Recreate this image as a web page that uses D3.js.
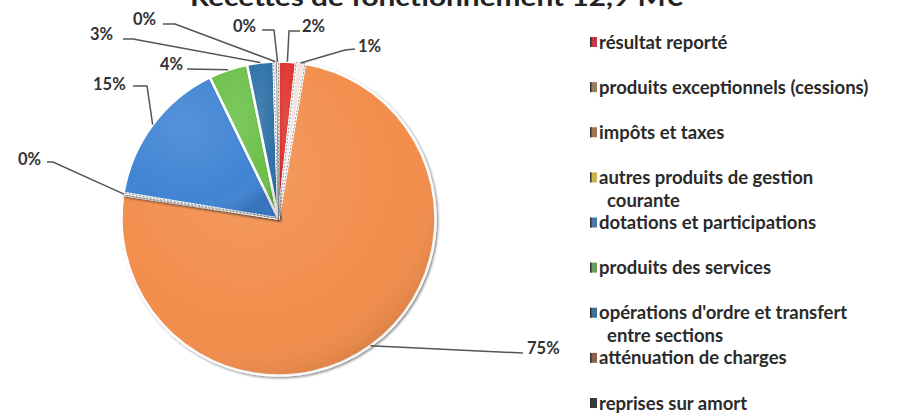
<!DOCTYPE html>
<html><head><meta charset="utf-8">
<script src="https://cdn.jsdelivr.net/npm/d3@7"></script>
<style>
html,body{margin:0;padding:0;background:#fff;}
svg{display:block;font-family:Lato,"Open Sans",sans-serif;}
</style></head>
<body>
<svg id="chart" width="897" height="413"></svg>
<script>
// ---- data ----
const categories = [
  "résultat reporté",
  "produits exceptionnels (cessions)",
  "impôts et taxes",
  "autres produits de gestion courante",
  "dotations et participations",
  "produits des services",
  "opérations d'ordre et transfert entre sections",
  "atténuation de charges",
  "reprises sur amort"
];
const values = [1.8, 0.9, 74.7, 0.2, 15.2, 4.0, 2.7, 0.3, 0.2];
const percentLabels = ["2%", "1%", "75%", "0%", "15%", "4%", "3%", "0%", "0%"];
const legendLines = [
  ["résultat reporté"],
  ["produits exceptionnels (cessions)"],
  ["impôts et taxes"],
  ["autres produits de gestion", "courante"],
  ["dotations et participations"],
  ["produits des services"],
  ["opérations d'ordre et transfert", "entre sections"],
  ["atténuation de charges"],
  ["reprises sur amort"]
];
const titleText = "Recettes de fonctionnement 12,9 M€";

// ---- style / layout ----
const sliceColors = ["#e0312f","#f1e4dc","#f28d4b","#f0c040","#3f84d4","#6cc04a","#2e6fa6","#a05a3a","#333333"];
const swatchColors = ["#c23a45","#9b7b5e","#a27456","#c9b24a","#4b78a8","#6e9b62","#3f7394","#8e5f4a","#3a3a3a"];
// label text position (x = start, y = vertical centre) and leader-line elbow points
const labelLayout = [
  {x:302, y:26, path:[[300,31],[289,31]]},
  {x:358, y:46, path:[[355,49],[345,50]]},
  {x:527, y:348, path:[[523,353]]},
  {x:18,  y:159, path:[[47,162],[53,162]]},
  {x:93,  y:84,  path:[[133,86],[147,86]]},
  {x:160, y:64,  path:[[187,69]]},
  {x:90,  y:34,  path:[[123,39],[133,39]]},
  {x:133, y:19,  path:[[163,24],[175,24]]},
  {x:233, y:26,  path:[[262,30],[274,30]]}
];
const cx = 278.5, cy = 218.5, R = 157;

const svg = d3.select("#chart");
const defs = svg.append("defs");
const f = defs.append("filter").attr("id","sh").attr("x","-10%").attr("y","-10%").attr("width","120%").attr("height","120%");
f.append("feDropShadow").attr("dx",1.5).attr("dy",1.5).attr("stdDeviation",1.2).attr("flood-color","#000").attr("flood-opacity",0.45);
const rg = defs.append("radialGradient").attr("id","shade").attr("cx","40%").attr("cy","35%").attr("r","70%");
rg.append("stop").attr("offset","0%").attr("stop-color","#fff").attr("stop-opacity",0.12);
rg.append("stop").attr("offset","75%").attr("stop-color","#fff").attr("stop-opacity",0);
rg.append("stop").attr("offset","100%").attr("stop-color","#000").attr("stop-opacity",0.12);

// title (cut off at top, as in the reference)
svg.append("text").attr("x",190).attr("y",5.5)
  .attr("textLength",493).attr("lengthAdjust","spacingAndGlyphs")
  .attr("font-size",24).attr("font-weight",700).attr("fill","#222").text(titleText);

const pie = d3.pie().sort(null).value(d => d)(values);
const arc = d3.arc().innerRadius(0).outerRadius(R);
const g = svg.append("g").attr("transform",`translate(${cx},${cy})`);
g.selectAll("path.slice").data(pie).join("path").attr("class","slice")
  .attr("d",arc).attr("fill",(d,i)=>sliceColors[i])
  .attr("stroke","#fff").attr("stroke-width",2.5).attr("filter","url(#sh)");
g.selectAll("path.sh").data(pie).join("path").attr("class","sh")
  .attr("d",arc).attr("fill","url(#shade)").attr("stroke","none");
// tiny slices outline
g.selectAll("path.thin").data(pie.filter(d=>d.value<1)).join("path").attr("class","thin")
  .attr("d",arc).attr("fill","none").attr("stroke","#777").attr("stroke-width",0.8).attr("stroke-dasharray","2,1.5");

// leader lines
const edge = d => {
  const a = (d.startAngle + d.endAngle)/2;
  return [cx + R*Math.sin(a), cy - R*Math.cos(a)];
};
const line = d3.line();
svg.selectAll("path.leader").data(pie).join("path").attr("class","leader")
  .attr("d",(d,i)=> line([...labelLayout[i].path, edge(d)]))
  .attr("fill","none").attr("stroke","#555").attr("stroke-width",1.5);

svg.selectAll("text.pct").data(pie).join("text").attr("class","pct")
  .attr("x",(d,i)=>labelLayout[i].x).attr("y",(d,i)=>labelLayout[i].y+5.5)
  .attr("font-size",16.5).attr("font-weight",700).attr("fill","#333")
  .text((d,i)=>percentLabels[i]);

// legend
const rowY = d3.scaleLinear().domain([0,8]).range([42,403]);
const lg = svg.selectAll("g.leg").data(categories).join("g").attr("class","leg")
  .attr("transform",(d,i)=>`translate(590,${rowY(i)})`);
lg.append("rect").attr("x",0).attr("y",-5).attr("width",7).attr("height",10)
  .attr("fill",(d,i)=>swatchColors[i]);
lg.append("rect").attr("x",0).attr("y",-5).attr("width",1.5).attr("height",10).attr("fill","#333");
lg.each(function(d,i){
  const gg = d3.select(this);
  legendLines[i].forEach((t,k)=>{
    gg.append("text").attr("x", k===0 ? 9 : 17).attr("y", 6.5 + k*23)
      .attr("font-size",18.5).attr("font-weight",700).attr("fill","#2a2a2a").text(t);
  });
});
</script>
</body></html>
